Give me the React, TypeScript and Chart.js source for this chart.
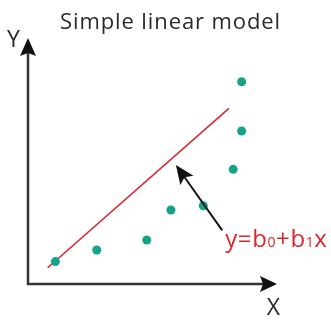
import { useEffect, useRef } from "react";
import { Chart, registerables } from "chart.js";

Chart.register(...registerables);

// Labels
const titleText = "Simple linear model";
const xAxisLabel = "X";
const yAxisLabel = "Y";

// Observations
const pointX = [1.1, 2.76, 4.77, 5.74, 7.04, 8.24, 8.58, 8.58];
const pointY = [0.91, 1.38, 1.79, 3.01, 3.18, 4.66, 6.22, 8.22];

// Fitted line end points
const fitX = [0.79, 8.07];
const fitY = [0.66, 7.14];

// Pointer from the equation to the line
const pointerFrom = [7.8, 2.18];
const pointerTo = [5.94, 4.84];

// Equation text, split into normal and subscript runs
const equationRuns = ["y=b", "0", "+b", "1", "x"];
const equationSub = [false, true, false, true, false];

const FONT = '"Open Sans", "DejaVu Sans", sans-serif';
const AXIS_COLOR = "#333333";
const TEXT_COLOR = "#2a2a2a";
const POINT_COLOR = "#14a386";
const LINE_COLOR = "#d8262e";

function arrowHead(
  ctx: CanvasRenderingContext2D,
  tx: number,
  ty: number,
  angle: number,
  len: number,
  half: number,
  notch: number
) {
  ctx.save();
  ctx.translate(tx, ty);
  ctx.rotate(angle);
  ctx.beginPath();
  ctx.moveTo(0, 0);
  ctx.lineTo(-len, -half);
  ctx.lineTo(-len + notch, 0);
  ctx.lineTo(-len, half);
  ctx.closePath();
  ctx.fill();
  ctx.restore();
}

const diagramPlugin = {
  id: "diagram",
  beforeDatasetsDraw(chart: any) {
    const { ctx, chartArea } = chart;
    const { left, right, top, bottom } = chartArea;
    ctx.save();
    ctx.strokeStyle = AXIS_COLOR;
    ctx.fillStyle = "#111111";
    ctx.lineWidth = 2.5;
    ctx.lineCap = "butt";
    ctx.beginPath();
    ctx.moveTo(left, bottom + 1.25);
    ctx.lineTo(left, top + 12);
    ctx.moveTo(left - 1.25, bottom);
    ctx.lineTo(right - 12, bottom);
    ctx.stroke();
    arrowHead(ctx, left, top, -Math.PI / 2, 18, 8, 3);
    arrowHead(ctx, right, bottom, 0, 17, 8, 3);

    // Title and axis names
    ctx.fillStyle = TEXT_COLOR;
    ctx.textBaseline = "alphabetic";
    ctx.textAlign = "left";
    ctx.font = `22px ${FONT}`;
    ctx.letterSpacing = "0.9px";
    ctx.fillText(titleText, 60, 28.7);
    ctx.letterSpacing = "0px";
    ctx.font = `23px ${FONT}`;
    ctx.textAlign = "center";
    ctx.fillText(yAxisLabel, 13.5, 46.5);
    ctx.fillText(xAxisLabel, 273.5, 315);
    ctx.restore();
  },
  afterDatasetsDraw(chart: any) {
    const { ctx } = chart;
    const xs = chart.scales.x;
    const ys = chart.scales.y;
    const x0 = xs.getPixelForValue(pointerFrom[0]);
    const y0 = ys.getPixelForValue(pointerFrom[1]);
    const x1 = xs.getPixelForValue(pointerTo[0]);
    const y1 = ys.getPixelForValue(pointerTo[1]);
    const angle = Math.atan2(y1 - y0, x1 - x0);
    ctx.save();
    ctx.strokeStyle = "#151515";
    ctx.fillStyle = "#111111";
    ctx.lineWidth = 2;
    ctx.beginPath();
    ctx.moveTo(x0, y0);
    ctx.lineTo(x1 - Math.cos(angle) * 12, y1 - Math.sin(angle) * 12);
    ctx.stroke();
    arrowHead(ctx, x1, y1, angle, 19, 8, 4);

    // Equation label beside the pointer's tail
    let tx = x0 + 3;
    const base = y0 + 17;
    ctx.fillStyle = LINE_COLOR;
    ctx.textAlign = "left";
    ctx.textBaseline = "alphabetic";
    ctx.letterSpacing = "0.6px";
    equationRuns.forEach((run, i) => {
      ctx.font = equationSub[i] ? `14px ${FONT}` : `24px ${FONT}`;
      ctx.fillText(run, tx, base);
      tx += ctx.measureText(run).width;
    });
    ctx.restore();
  },
};

export default function App() {
  const canvasRef = useRef<HTMLCanvasElement | null>(null);

  useEffect(() => {
    const canvas = canvasRef.current;
    if (!canvas) return;
    const chart = new Chart(canvas, {
      type: "scatter",
      data: {
        datasets: [
          {
            label: "Observations",
            data: pointX.map((x, i) => ({ x, y: pointY[i] })),
            backgroundColor: POINT_COLOR,
            borderWidth: 0,
            pointRadius: 4.5,
          },
          {
            type: "line",
            label: "Model",
            data: fitX.map((x, i) => ({ x, y: fitY[i] })),
            borderColor: LINE_COLOR,
            borderWidth: 1.6,
            pointRadius: 0,
            fill: false,
          } as any,
        ],
      },
      options: {
        animation: false,
        responsive: false,
        devicePixelRatio: 1,
        layout: { padding: { left: 28, right: 54, top: 38, bottom: 36 } },
        scales: {
          x: { type: "linear", min: 0, max: 10, display: false },
          y: { type: "linear", min: 0, max: 10, display: false },
        },
        plugins: {
          legend: { display: false },
          tooltip: { enabled: false },
          title: { display: false },
        },
      },
      plugins: [diagramPlugin],
    });
    return () => chart.destroy();
  }, []);

  return (
    <div style={{ position: "absolute", left: 0, top: 0, width: 331, height: 320, background: "#ffffff" }}>
      <canvas ref={canvasRef} width={331} height={320} style={{ display: "block" }} />
    </div>
  );
}
